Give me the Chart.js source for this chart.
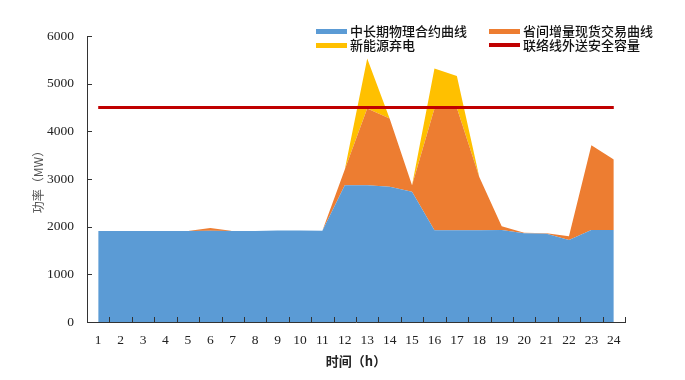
<!DOCTYPE html>
<html>
<head>
<meta charset="utf-8">
<script src="https://cdn.jsdelivr.net/npm/chart.js@4/dist/chart.umd.min.js"></script>
<style>
  html, body { margin: 0; padding: 0; background: #fff; }
  #wrap { position: relative; width: 685px; height: 380px; overflow: hidden; }
  #legend { position: absolute; left: 0; top: 0; width: 685px; height: 60px;
    font-family: "Noto Sans CJK SC", sans-serif; font-size: 13px; color: #111; font-weight: 500; }
  .item { position: absolute; display: flex; align-items: center; white-space: nowrap; line-height: 14px; }
  .mark { width: 31px; margin-right: 3px; }
</style>
</head>
<body>
<div id="wrap">
  <canvas id="c" width="685" height="380"></canvas>
  <div id="legend"></div>
</div>
<script>
// ---- data ----
const hours = ['1','2','3','4','5','6','7','8','9','10','11','12','13','14','15','16','17','18','19','20','21','22','23','24'];
const contractCurve = [1910,1910,1910,1910,1910,1915,1910,1910,1920,1920,1915,2870,2870,2840,2735,1925,1925,1925,1930,1860,1850,1720,1930,1930];
const spotIncrement = [0,0,0,0,0,55,0,0,0,0,0,330,1610,1430,135,2555,2565,1115,80,15,10,80,1780,1480];
const curtailment   = [0,0,0,0,0,0,0,0,0,0,0,0,1050,0,0,840,670,0,0,0,0,0,0,0];
const safeCapacity  = [4500,4500,4500,4500,4500,4500,4500,4500,4500,4500,4500,4500,4500,4500,4500,4500,4500,4500,4500,4500,4500,4500,4500,4500];
const seriesNames = ['中长期物理合约曲线','省间增量现货交易曲线','新能源弃电','联络线外送安全容量'];
const yTicks = [0,1000,2000,3000,4000,5000,6000];

const colors = ['#5B9BD5','#ED7D31','#FFC000','#C00000'];

// ---- legend (HTML text) ----
const legendPos = [[316,24],[489,24],[316,38],[489,38]];
const legendEl = document.getElementById('legend');
seriesNames.forEach((n,i)=>{
  const d = document.createElement('div');
  d.className='item';
  d.style.left = legendPos[i][0]+'px';
  d.style.top = legendPos[i][1]+'px';
  const m = document.createElement('span');
  m.className='mark';
  m.style.background = colors[i];
  m.style.height = (i===3?4:5)+'px';
  d.appendChild(m);
  const t = document.createElement('span');
  t.textContent = n;
  d.appendChild(t);
  legendEl.appendChild(d);
});

// ---- inner tick marks plugin ----
const innerTicks = {
  id:'innerTicks',
  afterDraw(chart){
    const ctx = chart.ctx;
    const xs = chart.scales.x, ys = chart.scales.y;
    ctx.save();
    ctx.strokeStyle = '#333';
    ctx.lineWidth = 1;
    ctx.beginPath();
    const n = hours.length;
    const step = (xs.right - xs.left)/n;
    for (let i=0;i<=n;i++){
      const x = Math.round(xs.left + i*step)+0.5;
      ctx.moveTo(x, xs.top);
      ctx.lineTo(x, xs.top-5);
    }
    yTicks.forEach(v=>{
      const y = Math.round(ys.getPixelForValue(v))+0.5;
      ctx.moveTo(ys.right, y);
      ctx.lineTo(ys.right+5, y);
    });
    ctx.stroke();
    ctx.restore();
  }
};

new Chart(document.getElementById('c'), {
  type:'line',
  data:{
    labels: hours,
    datasets:[
      { label: seriesNames[3], data: safeCapacity, yAxisID:'y2', borderColor: colors[3], borderWidth: 3,
        pointRadius:0, fill:false, tension:0, order:-1 },
      { label: seriesNames[0], data: contractCurve, yAxisID:'y', backgroundColor: colors[0], borderWidth:0,
        pointRadius:0, fill:'origin', tension:0 },
      { label: seriesNames[1], data: spotIncrement, yAxisID:'y', backgroundColor: colors[1], borderWidth:0,
        pointRadius:0, fill:'-1', tension:0 },
      { label: seriesNames[2], data: curtailment, yAxisID:'y', backgroundColor: colors[2], borderWidth:0,
        pointRadius:0, fill:'-1', tension:0 }
    ]
  },
  options:{
    responsive:false,
    animation:false,
    layout:{ padding:{ top:36, right:60, left:0, bottom:0 } },
    plugins:{ legend:{display:false}, tooltip:{enabled:false} },
    scales:{
      x:{
        offset:true,
        grid:{ display:true, drawOnChartArea:false, drawTicks:false, offset:true },
        border:{ display:true, color:'#333', width:1 },
        ticks:{ color:'#222', padding:10, maxRotation:0, autoSkip:false,
          font:{ family:'"Liberation Serif", serif', size:13.5 } },
        title:{ display:true, text:'时间（h）', color:'#222', padding:{top:0,bottom:11},
          font:{ family:'"Noto Sans CJK SC", sans-serif', size:13, weight:'bold' } },
        afterFit(s){ s.height = 58; }
      },
      y:{
        stacked:true, min:0, max:6000,
        afterBuildTicks(s){ s.ticks = yTicks.map(v=>({value:v})); },
        grid:{ display:true, drawOnChartArea:false, drawTicks:false },
        border:{ display:true, color:'#333', width:1 },
        ticks:{ color:'#222', padding:13, callback:(v)=>String(v),
          font:{ family:'"Liberation Serif", serif', size:13.5 } },
        title:{ display:true, text:'功率（MW）', color:'#555', padding:{top:31,bottom:0},
          font:{ family:'"Noto Sans CJK SC", sans-serif', size:12 } },
        afterFit(s){ s.width = 87; }
      },
      y2:{ display:false, min:0, max:6000 }
    }
  },
  plugins:[innerTicks]
});
</script>
</body>
</html>
